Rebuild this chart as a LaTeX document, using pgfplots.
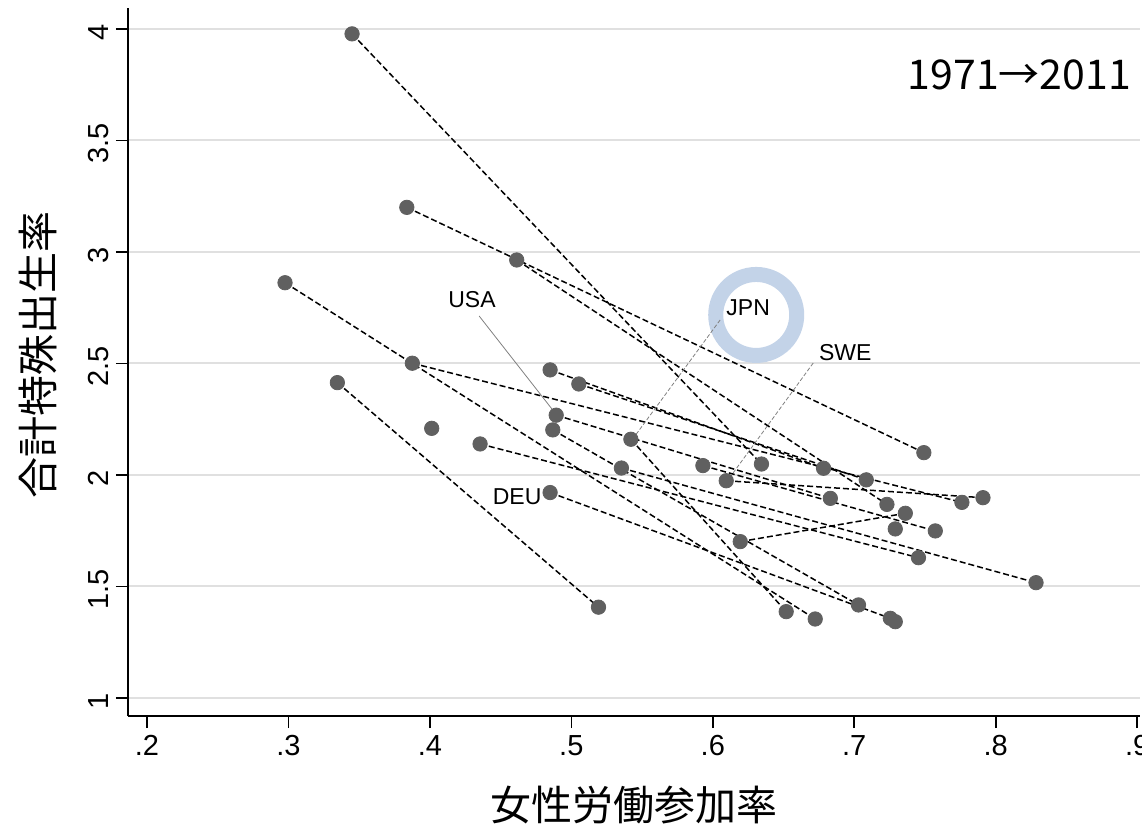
\documentclass[border=0pt]{standalone}
\usepackage{pgfplots}
\pgfplotsset{compat=1.18}
\usepackage{fontspec}
\setmainfont{Liberation Sans}
\newfontfamily\cjk{Noto Sans CJK JP}
\definecolor{dotgray}{RGB}{96,96,96}
\definecolor{gridgray}{RGB}{224,224,224}
\definecolor{ringblue}{RGB}{195,211,232}
\tikzset{cline/.style={black, line width=0.75pt, dash pattern=on 3pt off 1.5pt}}
\begin{document}
\begin{tikzpicture}[x=1pt,y=1pt]
\useasboundingbox (0,0) rectangle (571,416);
\begin{axis}[
  at={(64pt,58pt)}, anchor=south west,
  scale only axis, width=506pt, height=354pt,
  xmin=0.1866, xmax=0.902, ymin=0.919, ymax=4.094,
  axis x line*=bottom, axis y line*=left,
  axis line style={line width=0.9pt,-},
  xtick={0.2,0.3,0.4,0.5,0.6,0.7,0.8,0.9},
  xticklabels={.2,.3,.4,.5,.6,.7,.8,.9},
  ytick={1,1.5,2,2.5,3,3.5,4},
  yticklabels={1,1.5,2,2.5,3,3.5,4},
  tick align=outside, major tick length=6pt,
  tick style={line width=0.8pt, black},
  ymajorgrids, grid style={gridgray, line width=1pt},
  xticklabel style={font=\fontsize{14.5}{17}\selectfont},
  yticklabel style={font=\fontsize{14.5}{17}\selectfont, rotate=90, anchor=south, xshift=-1.5pt},
  xlabel={\cjk 女性労働参加率},
  xlabel style={font=\fontsize{20.5}{24}\selectfont, at={(axis description cs:0.5,-0.1257)}, anchor=center},
  ylabel={\cjk 合計特殊出生率},
  ylabel style={font=\fontsize{20.5}{24}\selectfont, at={(axis description cs:-0.089,0.51)}, anchor=center, rotate=0},
  clip=false,
]
% highlight ring
\draw[ringblue, line width=7.5pt] (axis cs:0.6307,2.7175) circle[radius=20.25pt];

% country trajectories 1971 -> 2011
\addplot[cline] coordinates {(0.345,3.978) (0.6344,2.049)};  % IRL
\addplot[cline] coordinates {(0.3837,3.200) (0.7492,2.100)}; % NZL
\addplot[cline] coordinates {(0.4614,2.964) (0.7231,1.868)}; %
\addplot[cline] coordinates {(0.2976,2.862) (0.6724,1.354)}; %
\addplot[cline] coordinates {(0.3876,2.501) (0.7761,1.877)}; %
\addplot[cline] coordinates {(0.3346,2.414) (0.5192,1.407)}; % ITA
\addplot[cline] coordinates {(0.485,2.471) (0.6783,2.030)};  % FRA
\addplot[cline] coordinates {(0.5053,2.408) (0.7085,1.978)}; % GBR
\addplot[cline] coordinates {(0.4893,2.268) (0.6831,1.895)}; % USA
\addplot[cline] coordinates {(0.4869,2.202) (0.703,1.417)};  % AUT
\addplot[cline] coordinates {(0.4355,2.139) (0.7454,1.629)}; % CAN
\addplot[cline] coordinates {(0.5421,2.160) (0.6519,1.387)}; % JPN
\addplot[cline] coordinates {(0.5354,2.031) (0.8285,1.517)}; % CHE
\addplot[cline] coordinates {(0.485,1.921) (0.7255,1.357)};  % DEU
\addplot[cline] coordinates {(0.593,2.042) (0.7573,1.749)};  % DNK
\addplot[cline] coordinates {(0.6095,1.974) (0.791,1.898)};  % SWE
\addplot[cline] coordinates {(0.6194,1.701) (0.7361,1.828)}; % FIN

% leader lines and labels
\draw[gray, line width=0.4pt] (axis cs:0.4348,2.713) -- (axis cs:0.487,2.29);
\draw[gray, line width=0.4pt, dash pattern=on 2pt off 1pt] (axis cs:0.6052,2.695) -- (axis cs:0.5444,2.170);
\draw[gray, line width=0.4pt, dash pattern=on 2pt off 1pt] (axis cs:0.671,2.502) -- (axis cs:0.6123,1.991);
\node[font=\fontsize{11.5}{13}\selectfont] at (axis cs:0.4298,2.785) {USA};
\node[font=\fontsize{11.5}{13}\selectfont] at (axis cs:0.625,2.749) {JPN};
\node[font=\fontsize{11.5}{13}\selectfont] at (axis cs:0.6936,2.547) {SWE};
\node[font=\fontsize{11.5}{13}\selectfont] at (axis cs:0.4617,1.901) {DEU};
\node[font=\cjk\fontsize{20.5}{24}\selectfont] at (axis cs:0.8167,3.794) {1971→2011};

% points
\addplot[only marks, mark=*, mark size=3.6pt, mark options={draw=dotgray, fill=dotgray}] coordinates {
(0.345,3.978) (0.3837,3.200) (0.4614,2.964) (0.2976,2.862) (0.3876,2.501)
(0.3346,2.414) (0.485,2.471) (0.5053,2.408) (0.4893,2.268) (0.4869,2.202)
(0.4013,2.209) (0.4355,2.139) (0.5421,2.160) (0.5354,2.031) (0.485,1.921)
(0.593,2.042) (0.6095,1.974) (0.6194,1.701)
(0.6344,2.049) (0.7492,2.100) (0.7231,1.868) (0.6724,1.354) (0.7761,1.877)
(0.5192,1.407) (0.6783,2.030) (0.7085,1.978) (0.6831,1.895) (0.703,1.417)
(0.7454,1.629) (0.6519,1.387) (0.8285,1.517) (0.7255,1.357) (0.729,1.342)
(0.7573,1.749) (0.791,1.898) (0.7361,1.828) (0.729,1.758)
};
\end{axis}
\end{tikzpicture}
\end{document}
